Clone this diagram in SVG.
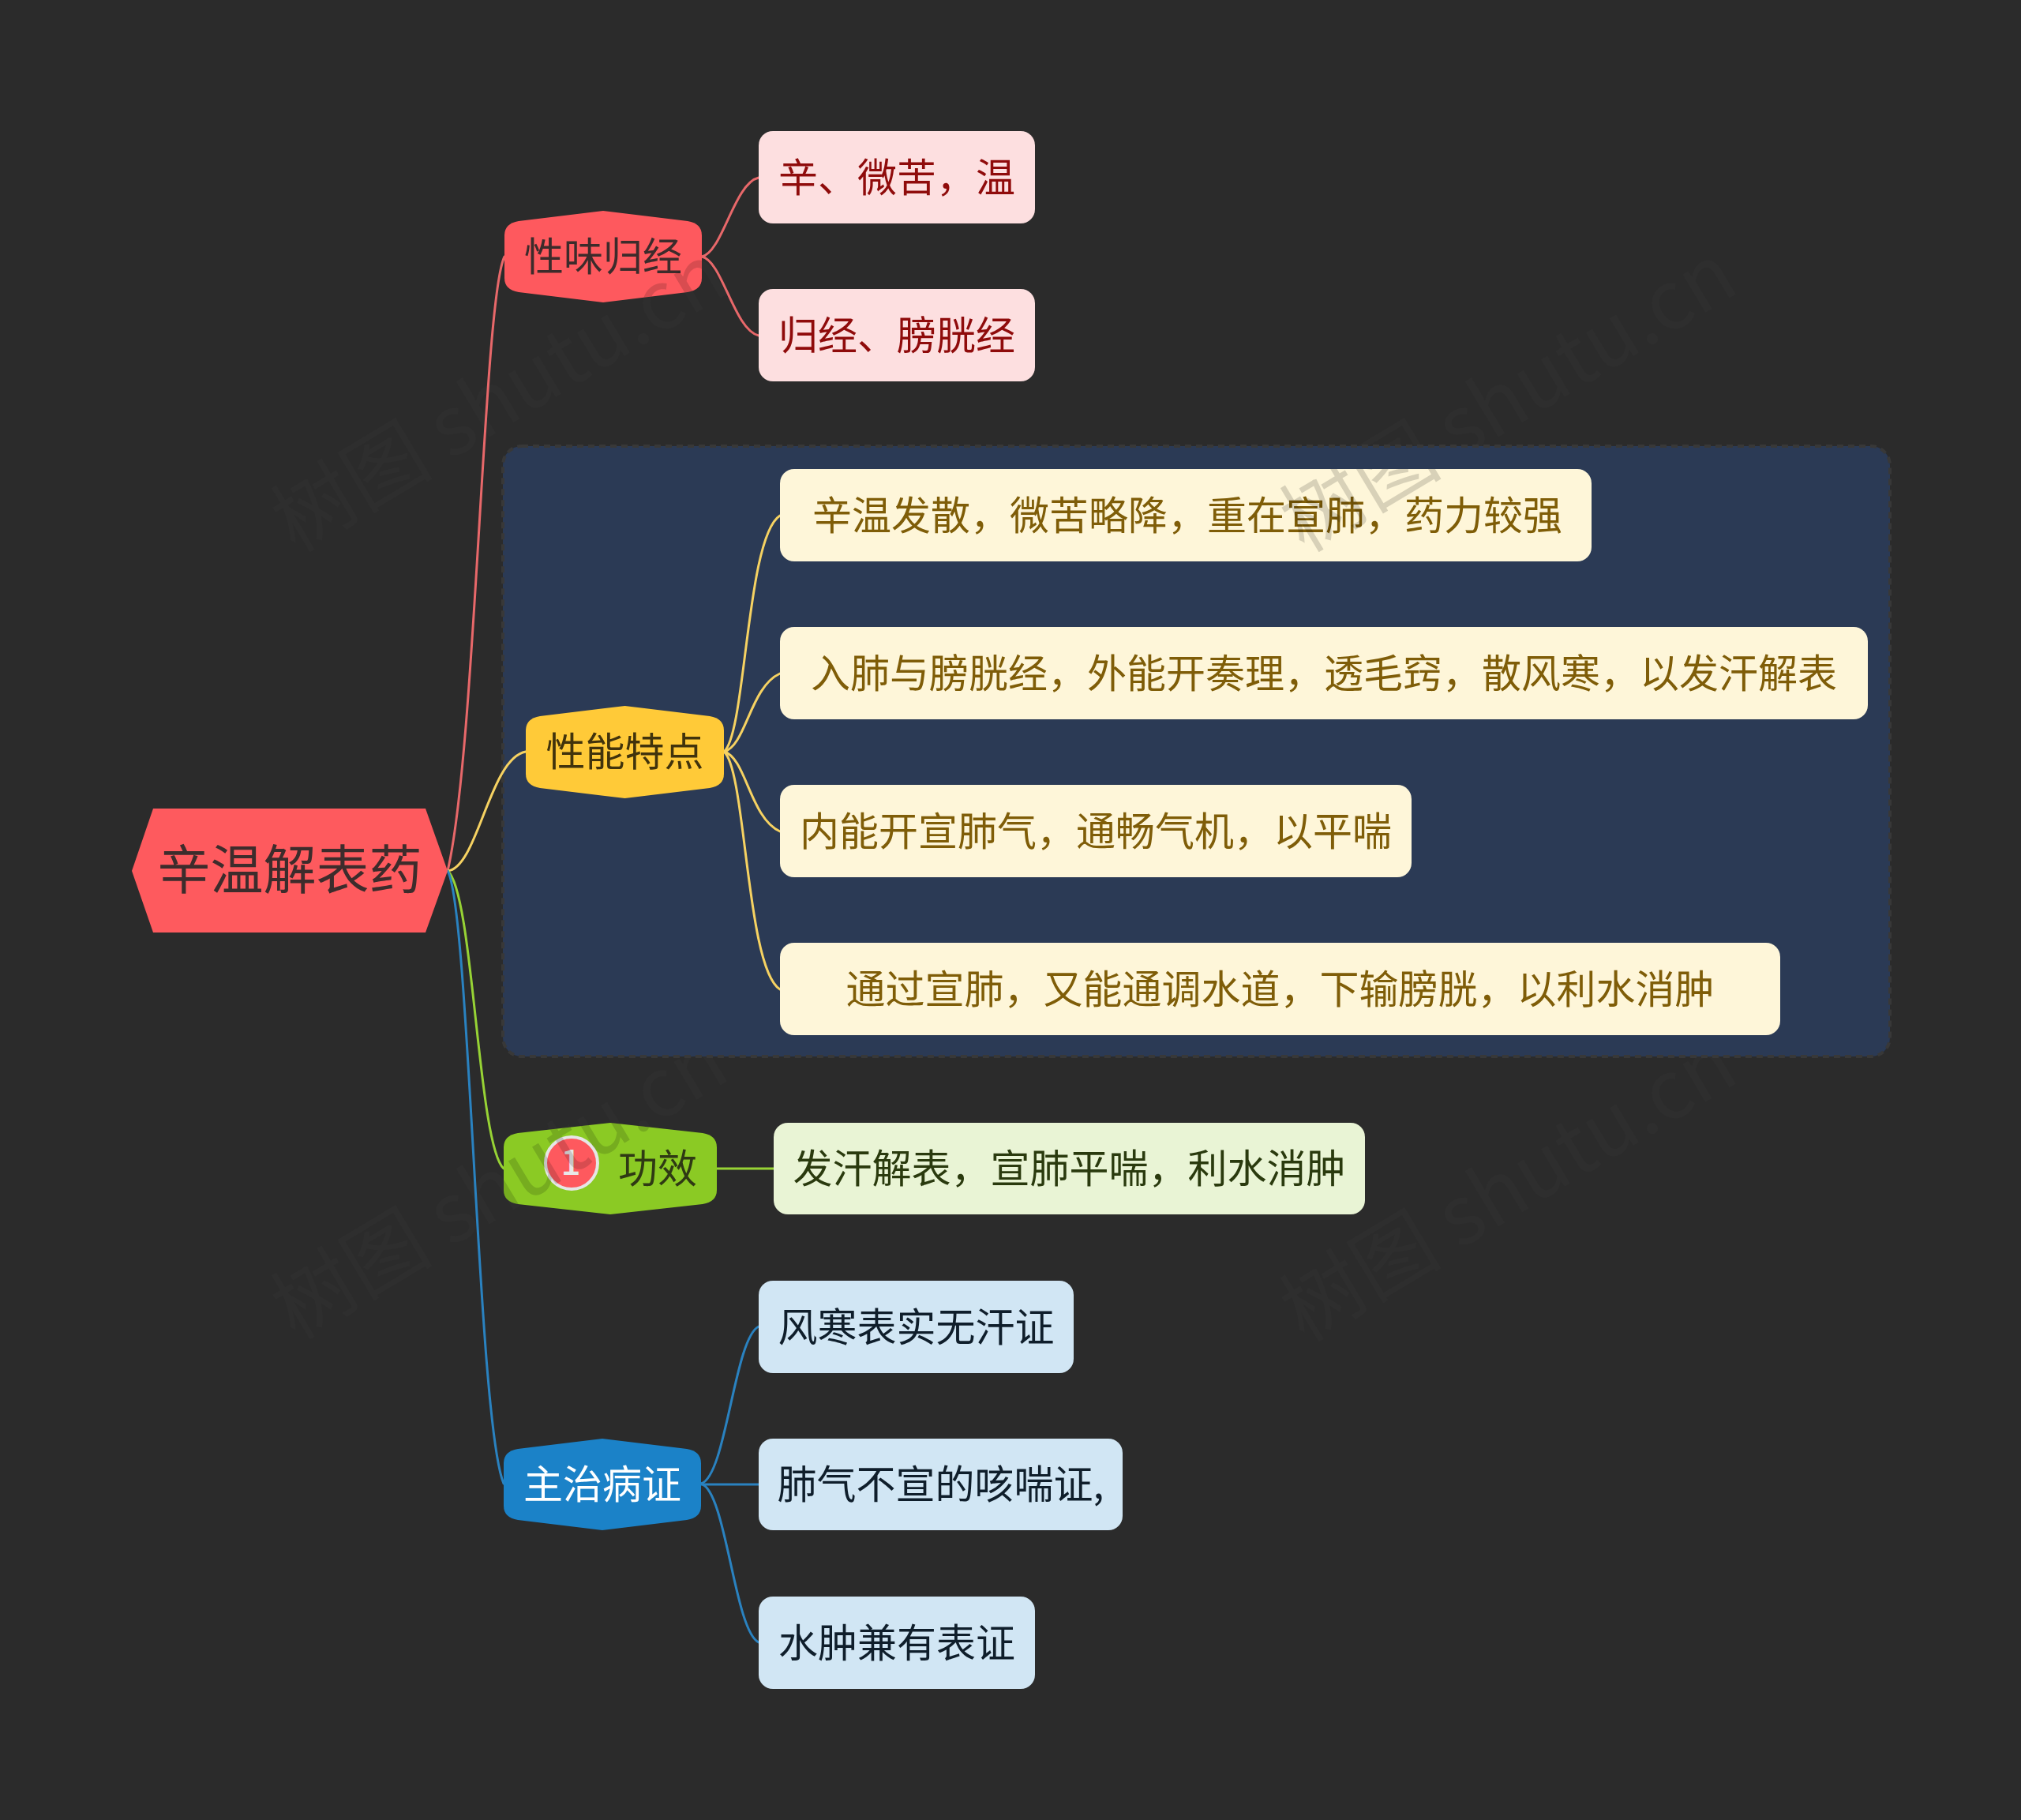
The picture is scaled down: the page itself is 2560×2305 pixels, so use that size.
<svg xmlns="http://www.w3.org/2000/svg" xmlns:xlink="http://www.w3.org/1999/xlink" width="2560" height="2305" viewBox="0 0 2560 2305">
<style>
text{font-family:"Noto Sans CJK SC","Noto Sans",sans-serif;font-size:50px;text-anchor:middle}
.wm{font-size:103px;text-anchor:start}
.wu{fill:#fff;opacity:.013}
.wo{fill:#000;opacity:.15}
.c{fill:none;stroke-width:3;stroke-linecap:round}
.r{stroke:#e8686a}.y{stroke:#f6d262}.g{stroke:#97d335}.b{stroke:#2a82c0}
.lr{fill:#fddfe0}.ly{fill:#fef6d9}.lg{fill:#e9f4d5}.lb{fill:#d1e6f4}
.tr{fill:#8f0b0b}.ty{fill:#7f5d08}.tg{fill:#2a3a0e}.tb{fill:#0f1e2b}
</style>
<defs>
<text id="wm" class="wm" x="0" y="0">树图 shutu.cn</text>
<clipPath id="c1"><path d="M764 267L871 280Q889 283 889 298L889 352Q889 367 871 370L764 383L657 370Q639 367 639 352L639 298Q639 283 657 280Z"/></clipPath>
<clipPath id="c2"><rect x="988" y="594" width="1028" height="117" rx="18"/></clipPath>
<clipPath id="c3"><path d="M773 1422L890 1435Q908 1438 908 1453L908 1507Q908 1522 890 1525L773 1538L656 1525Q638 1522 638 1507L638 1453Q638 1438 656 1435Z"/></clipPath>
</defs>
<rect width="2560" height="2305" fill="#2b2b2b"/>
<g id="watermarks-under">
<use xlink:href="#wm" href="#wm" class="wu" transform="translate(374,701) rotate(-31)"/>
<use xlink:href="#wm" href="#wm" class="wu" transform="translate(1652,701) rotate(-31)"/>
<use xlink:href="#wm" href="#wm" class="wu" transform="translate(374,1698) rotate(-31)"/>
<use xlink:href="#wm" href="#wm" class="wu" transform="translate(1652,1701) rotate(-31)"/>
</g>
<rect id="panel" x="637" y="565" width="1757" height="773" rx="24" fill="#2b3a55" stroke="#383838" stroke-width="4" stroke-dasharray="8 6"/>
<g id="connectors">
<path class="c r" d="M567 1103C603 950 612 380 639 325"/>
<path class="c y" d="M567 1103C605 1100 620 960 666 952"/>
<path class="c g" d="M567 1103C600 1130 605 1450 638 1480"/>
<path class="c b" d="M567 1103C595 1150 605 1800 638 1879"/>
<path class="c r" d="M889 325C915 320 930 232 961 225"/>
<path class="c r" d="M889 325C915 330 930 418 961 425"/>
<path class="c y" d="M917 952C945 930 945 680 988 653"/>
<path class="c y" d="M917 952C945 945 950 870 988 853"/>
<path class="c y" d="M917 952C945 959 950 1036 988 1053"/>
<path class="c y" d="M917 952C945 974 945 1226 988 1253"/>
<path class="c g" d="M908 1480L980 1480"/>
<path class="c b" d="M888 1879C920 1870 930 1695 961 1680"/>
<path class="c b" d="M888 1880L961 1880"/>
<path class="c b" d="M888 1879C920 1888 930 2065 961 2080"/>
</g>
<g id="root"><path d="M194 1024L539 1024L567 1103L539 1181L194 1181L167 1103Z" fill="#fe5a5e"/><text x="367" y="1126" style="font-size:67px" fill="#3d2c2c">辛温解表药</text></g>
<g id="n1"><path d="M764 267L871 280Q889 283 889 298L889 352Q889 367 871 370L764 383L657 370Q639 367 639 352L639 298Q639 283 657 280Z" fill="#fe5a5e"/><text x="764" y="343" fill="#3d2c2c">性味归经</text></g>
<g id="n1a"><rect class="lr" x="961" y="166" width="350" height="117" rx="18"/><text class="tr" x="1136" y="243">辛、微苦，温</text></g>
<g id="n1b"><rect class="lr" x="961" y="366" width="350" height="117" rx="18"/><text class="tr" x="1136" y="443">归经、膀胱经</text></g>
<g id="n2"><path d="M791.500 894L899 907Q917 910 917 925L917 980Q917 995 899 998L791.500 1011L684 998Q666 995 666 980L666 925Q666 910 684 907Z" fill="#ffca38"/><text x="791.500" y="970" fill="#41330c">性能特点</text></g>
<g id="n2a"><rect class="ly" x="988" y="594" width="1028" height="117" rx="18"/><text class="ty" x="1504" y="671">辛温发散，微苦略降，重在宣肺，药力较强</text></g>
<g id="n2b"><rect class="ly" x="988" y="794" width="1378" height="117" rx="18"/><text class="ty" x="1677" y="871">入肺与膀胱经，外能开奏理，透毛窍，散风寒，以发汗解表</text></g>
<g id="n2c"><rect class="ly" x="988" y="994" width="800" height="117" rx="18"/><text class="ty" x="1388" y="1071">内能开宣肺气，通畅气机，以平喘</text></g>
<g id="n2d"><rect class="ly" x="988" y="1194" width="1267" height="117" rx="18"/><text class="ty" x="1621.500" y="1271">通过宣肺，又能通调水道，下输膀胱，以利水消肿</text></g>
<g id="n3"><path d="M773 1422L890 1435Q908 1438 908 1453L908 1507Q908 1522 890 1525L773 1538L656 1525Q638 1522 638 1507L638 1453Q638 1438 656 1435Z" fill="#8bcb25"/><circle cx="724" cy="1473" r="33" fill="#fe5a5e" stroke="#e6e6e6" stroke-width="4"/><text x="723" y="1488" style="font-size:44px;font-weight:500" fill="#e8e8e8">1</text><text x="833" y="1498" fill="#2f3a14">功效</text></g>
<g id="n3a"><rect class="lg" x="980" y="1422" width="749" height="116" rx="18"/><text class="tg" x="1354.500" y="1498">发汗解表，宣肺平喘，利水消肿</text></g>
<g id="n4"><path d="M763 1822L870 1835Q888 1838 888 1853L888 1907Q888 1922 870 1925L763 1938L656 1925Q638 1922 638 1907L638 1853Q638 1838 656 1835Z" fill="#1b82c8"/><text x="763" y="1898" fill="#ffffff">主治病证</text></g>
<g id="n4a"><rect class="lb" x="961" y="1622" width="399" height="117" rx="18"/><text class="tb" x="1160.500" y="1699">风寒表实无汗证</text></g>
<g id="n4b"><rect class="lb" x="961" y="1822" width="461" height="116" rx="18"/><text class="tb" x="1191.500" y="1898">肺气不宣的咳喘证,</text></g>
<g id="n4c"><rect class="lb" x="961" y="2022" width="350" height="117" rx="18"/><text class="tb" x="1136" y="2099">水肿兼有表证</text></g>
<g id="watermarks-over">
<g clip-path="url(#c1)"><use xlink:href="#wm" href="#wm" class="wo" transform="translate(374,701) rotate(-31)"/></g>
<g clip-path="url(#c2)"><use xlink:href="#wm" href="#wm" class="wo" transform="translate(1652,701) rotate(-31)"/></g>
<g clip-path="url(#c3)"><use xlink:href="#wm" href="#wm" class="wo" transform="translate(374,1698) rotate(-31)"/></g>
</g>
</svg>
